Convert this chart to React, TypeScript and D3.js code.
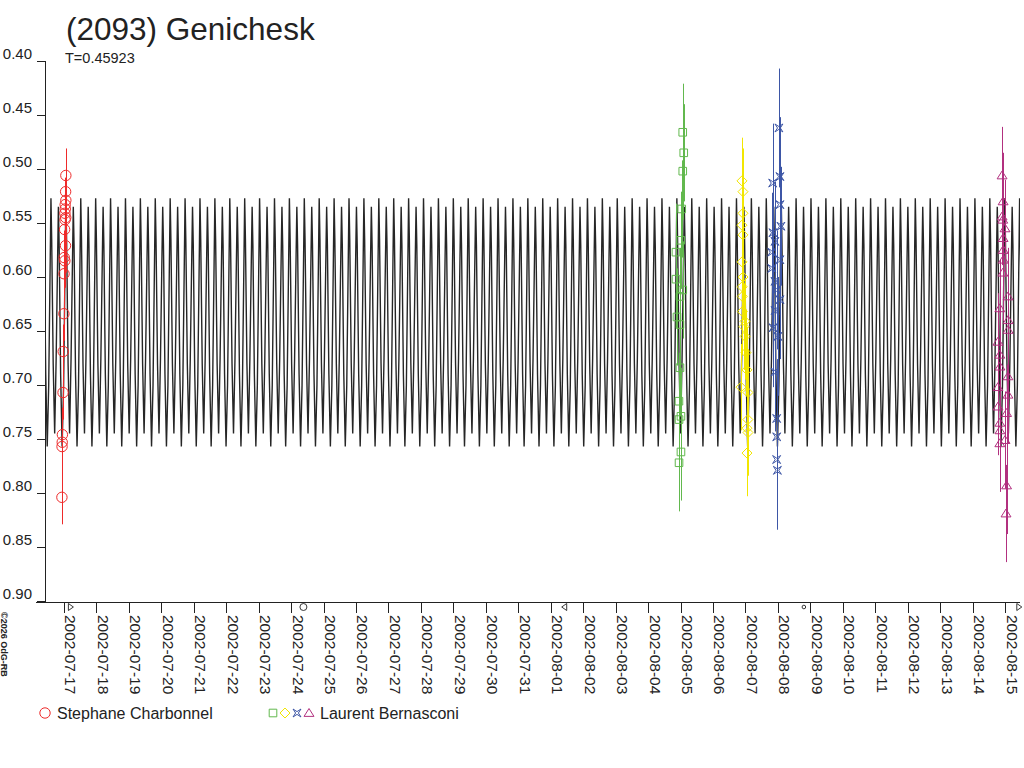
import * as d3 from "d3";

const title = "(2093) Genichesk";
const periodLabel = "T=0.45923";
const periodDays = 0.45923;
const credit = "©2026 OdG-RB";

const domainStart = "2002-07-16 10:00";
const domainEnd = "2002-08-15 11:05";
const magTicks = [0.4, 0.45, 0.5, 0.55, 0.6, 0.65, 0.7, 0.75, 0.8, 0.85, 0.9];

// one rotation of the model lightcurve, [phase, mag]
const modelShape: [number, number][] = [
  [0.0, 0.757],
  [0.1, 0.7],
  [0.2, 0.585],
  [0.25, 0.527],
  [0.3, 0.565],
  [0.4, 0.68],
  [0.5, 0.745],
  [0.6, 0.675],
  [0.7, 0.58],
  [0.75, 0.535],
  [0.8, 0.57],
  [0.9, 0.69],
];
const modelEpoch = "2002-07-16 22:40";

const moonPhases: [string, string][] = [
  ["2002-07-17 04:47", "first"],
  ["2002-07-24 09:07", "full"],
  ["2002-08-01 10:22", "last"],
  ["2002-08-08 19:15", "new"],
  ["2002-08-15 10:12", "first"],
];

// Stephane Charbonnel
const charbonnel: [string, number][] = [
  ["2002-07-16 22:30", 0.804],
  ["2002-07-16 22:36", 0.757],
  ["2002-07-16 22:44", 0.753],
  ["2002-07-16 22:52", 0.746],
  ["2002-07-16 23:20", 0.707],
  ["2002-07-16 23:28", 0.669],
  ["2002-07-16 23:58", 0.634],
  ["2002-07-17 00:04", 0.597],
  ["2002-07-17 00:40", 0.585],
  ["2002-07-17 00:12", 0.582],
  ["2002-07-17 01:10", 0.571],
  ["2002-07-17 00:30", 0.556],
  ["2002-07-17 00:50", 0.547],
  ["2002-07-17 01:20", 0.545],
  ["2002-07-17 00:45", 0.541],
  ["2002-07-17 01:00", 0.537],
  ["2002-07-17 00:55", 0.533],
  ["2002-07-17 01:25", 0.529],
  ["2002-07-17 01:15", 0.521],
  ["2002-07-17 01:25", 0.506],
];

// Laurent Bernasconi, four nights
const bernasconi1: [string, number][] = [
  ["2002-08-05 01:39", 0.466],
  ["2002-08-05 02:24", 0.485],
  ["2002-08-05 01:40", 0.502],
  ["2002-08-05 00:55", 0.537],
  ["2002-08-05 00:11", 0.566],
  ["2002-08-04 20:38", 0.577],
  ["2002-08-04 20:40", 0.602],
  ["2002-08-05 01:40", 0.612],
  ["2002-08-04 23:36", 0.618],
  ["2002-08-04 21:23", 0.637],
  ["2002-08-04 23:36", 0.644],
  ["2002-08-04 23:36", 0.684],
  ["2002-08-04 22:51", 0.715],
  ["2002-08-05 00:20", 0.729],
  ["2002-08-04 22:55", 0.732],
  ["2002-08-05 00:20", 0.762],
  ["2002-08-04 22:55", 0.772],
];

const bernasconi2: [string, number][] = [
  ["2002-08-06 21:27", 0.511],
  ["2002-08-06 22:12", 0.521],
  ["2002-08-06 22:12", 0.541],
  ["2002-08-06 21:27", 0.552],
  ["2002-08-06 22:10", 0.561],
  ["2002-08-06 21:30", 0.586],
  ["2002-08-06 22:15", 0.6],
  ["2002-08-06 21:35", 0.609],
  ["2002-08-06 21:40", 0.618],
  ["2002-08-06 21:45", 0.632],
  ["2002-08-06 23:40", 0.641],
  ["2002-08-06 22:56", 0.646],
  ["2002-08-06 23:45", 0.655],
  ["2002-08-07 00:25", 0.67],
  ["2002-08-07 01:09", 0.686],
  ["2002-08-06 20:43", 0.702],
  ["2002-08-07 01:53", 0.707],
  ["2002-08-07 01:50", 0.732],
  ["2002-08-07 01:09", 0.74],
  ["2002-08-07 01:55", 0.744],
  ["2002-08-07 01:10", 0.763],
];

const bernasconi3: [string, number][] = [
  ["2002-08-08 00:48", 0.462],
  ["2002-08-08 01:33", 0.507],
  ["2002-08-07 20:10", 0.513],
  ["2002-08-08 01:33", 0.533],
  ["2002-08-08 02:17", 0.553],
  ["2002-08-07 20:23", 0.559],
  ["2002-08-07 21:50", 0.567],
  ["2002-08-07 19:26", 0.577],
  ["2002-08-08 01:30", 0.584],
  ["2002-08-07 19:30", 0.592],
  ["2002-08-07 21:50", 0.604],
  ["2002-08-07 23:07", 0.612],
  ["2002-08-08 01:35", 0.621],
  ["2002-08-07 21:55", 0.631],
  ["2002-08-07 20:25", 0.647],
  ["2002-08-08 00:04", 0.655],
  ["2002-08-07 21:50", 0.688],
  ["2002-08-07 23:07", 0.731],
  ["2002-08-07 23:10", 0.748],
  ["2002-08-07 23:05", 0.769],
  ["2002-08-07 23:39", 0.779],
];

const bernasconi4: [string, number][] = [
  ["2002-08-14 21:50", 0.506],
  ["2002-08-14 22:35", 0.53],
  ["2002-08-14 21:50", 0.544],
  ["2002-08-14 22:20", 0.547],
  ["2002-08-15 00:00", 0.555],
  ["2002-08-14 22:35", 0.564],
  ["2002-08-14 22:40", 0.575],
  ["2002-08-14 22:45", 0.584],
  ["2002-08-14 22:25", 0.596],
  ["2002-08-15 02:15", 0.618],
  ["2002-08-14 20:10", 0.629],
  ["2002-08-15 02:15", 0.64],
  ["2002-08-15 02:15", 0.649],
  ["2002-08-14 18:45", 0.66],
  ["2002-08-14 20:10", 0.672],
  ["2002-08-14 20:15", 0.683],
  ["2002-08-15 02:10", 0.692],
  ["2002-08-14 18:45", 0.702],
  ["2002-08-15 02:10", 0.709],
  ["2002-08-14 18:50", 0.72],
  ["2002-08-15 01:10", 0.726],
  ["2002-08-14 20:10", 0.735],
  ["2002-08-14 20:15", 0.742],
  ["2002-08-15 00:00", 0.751],
  ["2002-08-14 20:10", 0.754],
  ["2002-08-15 01:10", 0.793],
  ["2002-08-15 00:45", 0.819],
];

const sessions = [
  { points: charbonnel, color: "#ee2a2a", symbol: "circle", err: 0.025 },
  { points: bernasconi1, color: "#62b84e", symbol: "square", err: 0.045 },
  { points: bernasconi2, color: "#f2e600", symbol: "diamond", err: 0.04 },
  { points: bernasconi3, color: "#3d56a6", symbol: "star", err: 0.055 },
  { points: bernasconi4, color: "#b2307f", symbol: "triangle", err: 0.045 },
];

const legend = [
  { label: "Stephane Charbonnel", symbols: [0], x: 45 },
  { label: "Laurent Bernasconi", symbols: [1, 2, 3, 4], x: 273 },
];

const font = "'Liberation Sans', Arial, sans-serif";
const parse = d3.utcParse("%Y-%m-%d %H:%M");
const DAY = 86400000;

function symbolPath(kind: string, r: number) {
  switch (kind) {
    case "square":
      return `M${-r},${-r}h${2 * r}v${2 * r}h${-2 * r}Z`;
    case "diamond":
      return `M0,${-r}L${r},0L0,${r}L${-r},0Z`;
    case "star": {
      const q = r * 0.35;
      return `M${-r},${-r}L0,${-q}L${r},${-r}L${q},0L${r},${r}L0,${q}L${-r},${r}L${-q},0Z`;
    }
    case "triangle":
      return `M0,${-r}L${r * 1.1},${r * 0.75}L${-r * 1.1},${r * 0.75}Z`;
    default:
      return "";
  }
}

const symbolSize: Record<string, number> = { circle: 5.2, square: 3.8, diamond: 5, star: 4, triangle: 4.5 };

function Marker({ kind, color, x, y }: { kind: string; color: string; x: number; y: number }) {
  if (kind === "circle")
    return <circle cx={x} cy={y} r={symbolSize.circle} fill="none" stroke={color} strokeWidth={1} />;
  return (
    <path
      d={symbolPath(kind, symbolSize[kind])}
      transform={`translate(${x},${y})`}
      fill="none"
      stroke={color}
      strokeWidth={1}
    />
  );
}

export default function App() {
  const width = 1024;
  const height = 768;
  const t0 = parse(domainStart)!;
  const t1 = parse(domainEnd)!;
  const x = d3.scaleUtc([t0, t1], [45, 1020]);
  const y = d3.scaleLinear([0.4, 0.9], [61, 601]);

  // model lightcurve repeated with the rotation period
  const epoch = parse(modelEpoch)!.getTime();
  const kFrom = Math.floor((t0.getTime() - epoch) / DAY / periodDays) - 1;
  const kTo = Math.ceil((t1.getTime() - epoch) / DAY / periodDays) + 1;
  const model: [Date, number][] = [];
  for (let k = kFrom; k <= kTo; k++) {
    for (const [ph, m] of modelShape) {
      model.push([new Date(epoch + (k + ph) * periodDays * DAY), m]);
    }
  }
  const line = d3
    .line<[Date, number]>()
    .x((d) => x(d[0]))
    .y((d) => y(d[1]));

  const days = d3.utcDay.range(d3.utcDay.ceil(t0), t1);
  const fmt = d3.utcFormat("%Y-%m-%d");

  return (
    <svg
      width={width}
      height={height}
      style={{ position: "absolute", left: 0, top: 0, background: "#fff" }}
      fontFamily={font}
    >
      <defs>
        <clipPath id="plot">
          <rect x={45} y={0} width={975} height={602} />
        </clipPath>
      </defs>

      <text x={66} y={40} fontSize={31.5} fill="#222">
        {title}
      </text>
      <text x={65} y={63} fontSize={14.5} fill="#222">
        {periodLabel}
      </text>

      {/* axes */}
      <g stroke="#222" shapeRendering="crispEdges">
        <line x1={45.5} x2={45.5} y1={61} y2={602} />
        <line x1={36} x2={1020} y1={602.5} y2={602.5} />
        {magTicks.map((m) => (
          <line key={m} x1={37} x2={45} y1={Math.round(y(m)) + 0.5} y2={Math.round(y(m)) + 0.5} />
        ))}
        {days.map((d) => (
          <line key={+d} x1={Math.round(x(d)) + 0.5} x2={Math.round(x(d)) + 0.5} y1={602} y2={613} />
        ))}
      </g>
      {magTicks.map((m) => (
        <text key={m} x={32} y={y(m) - 2} fontSize={15} textAnchor="end" fill="#222">
          {m.toFixed(2)}
        </text>
      ))}
      {days.map((d) => (
        <text
          key={+d}
          transform={`translate(${x(d) + 1.5},615) rotate(90)`}
          fontSize={15.5}
          fill="#222"
        >
          {fmt(d)}
        </text>
      ))}

      {/* moon phases */}
      <g fill="none" stroke="#222" strokeWidth={0.9}>
        {moonPhases.map(([t, kind]) => {
          const cx = x(parse(t)!);
          const cy = 607;
          if (kind === "full") return <circle key={t} cx={cx} cy={cy} r={3.5} />;
          if (kind === "new") return <circle key={t} cx={cx} cy={cy} r={1.8} />;
          const s = kind === "first" ? 1 : -1;
          return (
            <path
              key={t}
              d={`M${cx - s * 2},${cy - 3.5}L${cx - s * 2},${cy + 3.5}L${cx + s * 3},${cy}Z`}
            />
          );
        })}
      </g>

      <text transform="translate(1,612) rotate(90)" fontSize={9} fontWeight="bold" fill="#222">
        {credit}
      </text>

      {/* model lightcurve */}
      <path
        d={line(model) as string}
        clipPath="url(#plot)"
        fill="none"
        stroke="#262626"
        strokeWidth={1.4}
      />

      {/* observations */}
      {sessions.map((s, i) => (
        <g key={i}>
          {s.points.map(([t, m], j) => {
            const px = Math.round(x(parse(t)!)) + 0.5;
            return (
              <line
                key={j}
                x1={px}
                x2={px}
                y1={y(m - s.err)}
                y2={y(m + s.err)}
                stroke={s.color}
                strokeWidth={1}
              />
            );
          })}
          {s.points.map(([t, m], j) => (
            <Marker key={j} kind={s.symbol} color={s.color} x={x(parse(t)!)} y={y(m)} />
          ))}
        </g>
      ))}

      {/* legend */}
      {legend.map((l) => (
        <g key={l.label}>
          {l.symbols.map((si, k) => (
            <Marker
              key={si}
              kind={sessions[si].symbol}
              color={sessions[si].color}
              x={l.x + k * 12}
              y={713}
            />
          ))}
          <text x={l.x + l.symbols.length * 12 + (l.symbols.length > 1 ? -1 : 0)} y={719} fontSize={16} fill="#222">
            {l.label}
          </text>
        </g>
      ))}
    </svg>
  );
}
